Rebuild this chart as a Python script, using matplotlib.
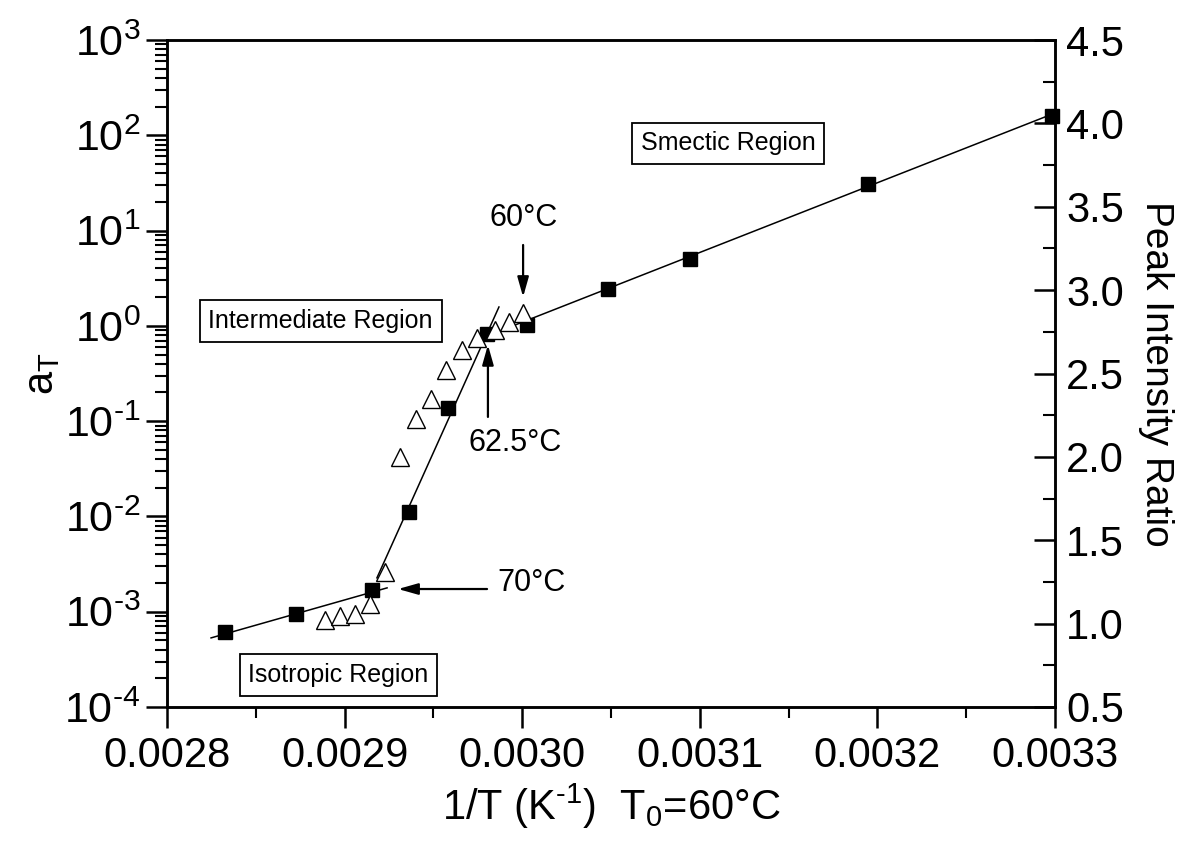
import numpy as np
import matplotlib
matplotlib.use('Agg')
import matplotlib.pyplot as plt
from matplotlib.ticker import MultipleLocator, LogLocator, NullFormatter, FuncFormatter

plt.rcParams['font.family'] = ['Liberation Sans', 'DejaVu Sans']
plt.rcParams['mathtext.fontset'] = 'custom'
plt.rcParams['mathtext.rm'] = 'Liberation Sans'
plt.rcParams['mathtext.it'] = 'Liberation Sans'
plt.rcParams['mathtext.sf'] = 'Liberation Sans'

# Shift factors a_T (filled squares, left axis)
inv_T = [0.0028327, 0.0028726, 0.0029154, 0.0029363, 0.0029582, 0.0029802,
         0.0030027, 0.0030483, 0.0030945, 0.0031947, 0.0032983]
a_T = [6.1e-4, 9.5e-4, 1.69e-3, 1.11e-2, 0.137, 0.82, 1.02, 2.44, 5.03, 30.8, 160.0]

# Peak intensity ratio (open triangles, right axis)
inv_T_xrd = [0.0028890, 0.0028974, 0.0029059, 0.0029143, 0.0029227, 0.0029312,
             0.0029402, 0.0029486, 0.0029570, 0.0029660, 0.0029745, 0.0029847,
             0.0029926, 0.0030005]
peak_ratio = [1.02, 1.045, 1.06, 1.12, 1.31, 2.0, 2.23, 2.35, 2.52, 2.64,
              2.71, 2.76, 2.81, 2.86]

# Fitted lines (end points)
iso_x = [0.0028248, 0.0029239]
iso_y = [10 ** -3.275, 10 ** -2.750]
mid_x = [0.0029182, 0.0029869]
mid_y = [10 ** -2.645, 10 ** 0.198]
sme_x = [0.0029774, 0.0033]
sme_y = [10 ** -0.127, 10 ** 2.234]


def log_label(v, pos):
    e = int(round(np.log10(v)))
    if e < 0:
        return r'10$^{\text{-}%d}$' % (-e)
    return r'10$^{%d}$' % e


fig = plt.figure(figsize=(11.87, 8.48), dpi=100)
ax = fig.add_axes([0.1407, 0.1663, 0.7481, 0.7865])
ax2 = ax.twinx()

ax.plot(iso_x, iso_y, color='black', lw=1.1)
ax.plot(mid_x, mid_y, color='black', lw=1.1)
ax.plot(sme_x, sme_y, color='black', lw=1.1)
ax.plot(inv_T, a_T, 's', color='black', markersize=9.5, zorder=5, clip_on=False)

ax2.plot(inv_T_xrd, peak_ratio, '^', markerfacecolor='white', markeredgecolor='black',
         markersize=13.5, markeredgewidth=1.0, zorder=4)

ax.set_yscale('log')
ax.set_xlim(0.0028, 0.0033)
ax.set_ylim(1e-4, 1e3)
ax2.set_ylim(0.5, 4.5)

ax.xaxis.set_major_locator(MultipleLocator(0.0001))
ax.xaxis.set_minor_locator(MultipleLocator(0.00005))
ax.xaxis.set_major_formatter(matplotlib.ticker.FormatStrFormatter('%.4f'))
ax.yaxis.set_major_locator(LogLocator(base=10, numticks=20))
ax.yaxis.set_minor_locator(LogLocator(base=10, subs=np.arange(2, 10), numticks=20))
ax.yaxis.set_major_formatter(FuncFormatter(log_label))
ax.yaxis.set_minor_formatter(NullFormatter())
ax2.yaxis.set_major_locator(MultipleLocator(0.5))
ax2.yaxis.set_minor_locator(MultipleLocator(0.25))
ax2.yaxis.set_major_formatter(matplotlib.ticker.FormatStrFormatter('%.1f'))

ax.tick_params(axis='x', which='major', direction='out', length=15, width=1.8,
               labelsize=30, pad=6)
ax.tick_params(axis='x', which='minor', direction='out', length=8, width=1.5)
ax.tick_params(axis='y', which='major', direction='out', length=15, width=1.8,
               labelsize=31, pad=4)
ax.tick_params(axis='y', which='minor', direction='out', length=9, width=1.5)
ax2.tick_params(axis='y', which='major', direction='in', length=15, width=1.8,
                labelsize=30, pad=8)
ax2.tick_params(axis='y', which='minor', direction='in', length=9, width=1.5)
for a in (ax, ax2):
    for s in a.spines.values():
        s.set_linewidth(1.8)

ax.set_xlabel(r'1/T (K$^{\text{-}1}$)  T$_0$=60°C', fontsize=30, labelpad=4)
ax.set_ylabel(r'a$_\mathrm{T}$', fontsize=30, labelpad=2)
ax2.set_ylabel('Peak Intensity Ratio', fontsize=28, rotation=270, labelpad=36)

box = dict(boxstyle='square,pad=0.35', facecolor='white', edgecolor='black', lw=1.3)
ax.text(0.632, 0.845, 'Smectic Region', transform=ax.transAxes, fontsize=18,
        ha='center', va='center', bbox=box, zorder=6)
ax.text(0.173, 0.579, 'Intermediate Region', transform=ax.transAxes, fontsize=18,
        ha='center', va='center', bbox=box, zorder=6)
ax.text(0.193, 0.048, 'Isotropic Region', transform=ax.transAxes, fontsize=18,
        ha='center', va='center', bbox=box, zorder=6)

arrow = dict(arrowstyle='-|>,head_length=0.6,head_width=0.17', color='black', lw=1.6,
             mutation_scale=20, shrinkA=0, shrinkB=0)
ax.annotate('', xy=(0.0030005, 2.01), xytext=(0.0030005, 7.06), arrowprops=arrow)
ax.text(0.003001, 13.6, '60°C', fontsize=22, ha='center', va='center')
ax.annotate('', xy=(0.0029807, 0.631), xytext=(0.0029807, 0.1107), arrowprops=arrow)
ax.text(0.0029959, 0.059, '62.5°C', fontsize=22, ha='center', va='center')
ax.annotate('', xy=(0.0029301, 1.73e-3), xytext=(0.0029802, 1.73e-3), arrowprops=arrow)
ax.text(0.0030055, 2.0e-3, '70°C', fontsize=22, ha='center', va='center')

fig.savefig('out.png', dpi=100)
